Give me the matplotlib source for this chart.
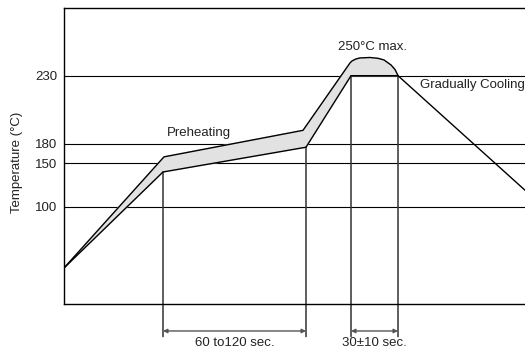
import numpy as np
import matplotlib.pyplot as plt

plt.rcParams['font.family'] = ['Liberation Sans', 'DejaVu Sans']

# schematic reflow profile, x = time (drawing units), y = temperature (°C)
upper_t = [0, 100, 239, 286, 288, 292, 296, 306, 314, 320, 327, 331, 334]
upper_c = [25, 160, 190, 244, 246.2, 248.4, 249.5, 250, 249.1, 247.3, 241.8, 236.8, 230.2]
lower_t = [0, 99, 242, 287, 334, 461]
lower_c = [25, 140, 175, 230, 230, 119]

temp_ticks = [100, 150, 180, 230]
tick_labels = ['100', '150', '180', '230']

mark_t = [99, 242, 287, 334]
mark_c = [140, 175, 230, 230]
spans = [(99, 242, '60 to120 sec.'), (287, 334, '30±10 sec.')]

# the drawing is not to scale: piecewise axis mapping (°C -> height)
scale_c = [-40, 0, 25, 100, 150, 180, 230, 250, 280]
scale_h = [-57.6, 0, 36, 97.3, 140.7, 160, 228.3, 246.5, 296.5]

def fwd(v):
    return np.interp(v, scale_c, scale_h)

def inv(v):
    return np.interp(v, scale_h, scale_c)

fs = 9.5
tc = '#222222'

fig = plt.figure(figsize=(5.25, 3.53), dpi=100)
ax = fig.add_axes([64/525, 49/353, 461/525, 296.5/353])
ax.set_yscale('function', functions=(fwd, inv))
ax.set_xlim(0, 461)
ax.set_ylim(0, 280)

for c in temp_ticks:
    ax.axhline(c, color='black', lw=0.8, zorder=1)

ax.fill(np.concatenate([upper_t, lower_t[:5][::-1]]),
        np.concatenate([upper_c, lower_c[:5][::-1]]),
        color='#e2e2e2', zorder=2)
ax.plot(upper_t, upper_c, color='black', lw=1.0, zorder=3)
ax.plot(lower_t, lower_c, color='black', lw=1.0, zorder=3)

for t, c in zip(mark_t, mark_c):
    ax.annotate('', xy=(t, c), xycoords='data', xytext=(t, -0.11),
                textcoords=('data', 'axes fraction'),
                arrowprops=dict(arrowstyle='-', color='#333333', lw=1.1,
                                shrinkA=0, shrinkB=0), zorder=2)

for a, b, txt in spans:
    ax.annotate('', xy=(a, -0.091), xycoords=('data', 'axes fraction'),
                xytext=(b, -0.091), textcoords=('data', 'axes fraction'),
                arrowprops=dict(arrowstyle='<|-|>', color='#555555', lw=1.0,
                                mutation_scale=6, shrinkA=0, shrinkB=0))
    ax.text((a + b) / 2, -0.13, txt, transform=ax.get_xaxis_transform(),
            ha='center', va='center', fontsize=fs, color=tc)

ax.text(134.5, 188, 'Preheating', ha='center', va='center', fontsize=fs, color=tc)
ax.text(309, 256.5, '250°C max.', ha='center', va='center', fontsize=fs, color=tc)
ax.text(356, 223, 'Gradually Cooling', ha='left', va='center', fontsize=fs, color=tc)

ax.set_yticks(temp_ticks)
ax.set_yticklabels(tick_labels)
ax.yaxis.set_minor_locator(plt.NullLocator())
ax.set_xticks([])
ax.tick_params(axis='y', length=0, pad=5, labelsize=fs, labelcolor=tc)
ax.set_ylabel('Temperature (°C)', fontsize=fs, color=tc)
ax.yaxis.set_label_coords(-0.089, 0.476)

ax.spines['right'].set_visible(False)
for s in ['left', 'top', 'bottom']:
    ax.spines[s].set_linewidth(1.0)

fig.savefig('out.png', dpi=100)
